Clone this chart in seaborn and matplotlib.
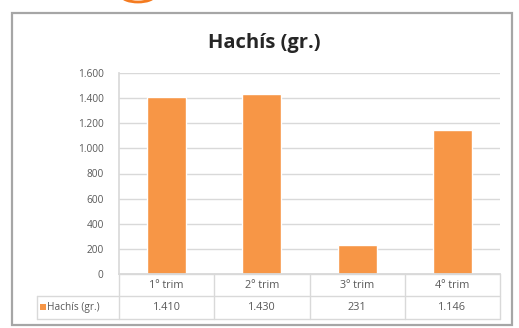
import matplotlib
matplotlib.use("Agg")
import matplotlib.pyplot as plt
import seaborn as sns
import pandas as pd
from matplotlib.patches import Rectangle, Ellipse
from matplotlib.lines import Line2D

categories = ["1º trim", "2º trim", "3º trim", "4º trim"]
values = [1410, 1430, 231, 1146]
series_name = "Hachís (gr.)"
y_ticks = [0, 200, 400, 600, 800, 1000, 1200, 1400, 1600]

ORANGE = "#F79646"
GRID = "#D9D9D9"
TXT = "#595959"

def fmt(v):
    return f"{v:,}".replace(",", ".")

sns.set_theme(style="white")
plt.rcParams["font.family"] = ["Open Sans", "DejaVu Sans"]

W, H = 519, 328
fig = plt.figure(figsize=(W / 100, H / 100), dpi=100)
fig.patch.set_facecolor("white")

def fx(px):
    return px / W

def fy(py):
    return 1 - py / H

# plot area
L, R, T, B = 119, 500, 73, 274
ax = fig.add_axes([fx(L), fy(B), fx(R) - fx(L), fy(T) - fy(B)])
df = pd.DataFrame({"cat": categories, "val": values})
sns.barplot(data=df, x="cat", y="val", color=ORANGE, width=0.41,
            saturation=1, ax=ax)
ax.set_xlim(-0.5, 3.5)
ax.set_ylim(0, 1600)
ax.set_yticks(y_ticks)
ax.set_yticklabels([fmt(t) for t in y_ticks], fontsize=7.3, color=TXT)
ax.set_xticks([])
ax.set_xlabel("")
ax.set_ylabel("")
ax.tick_params(axis="y", length=0, pad=11)
ax.yaxis.grid(True, color=GRID, linewidth=1)
ax.set_axisbelow(True)
for s in ["top", "right"]:
    ax.spines[s].set_visible(False)
ax.spines["left"].set_color(GRID)
ax.spines["bottom"].set_color(GRID)
ax.patch.set_alpha(0)

# outer frame
fig.patches.append(Rectangle((fx(12), fy(325)), fx(512) - fx(12), fy(13) - fy(325),
                             transform=fig.transFigure, fill=False,
                             edgecolor="#A6A6A6", linewidth=1.6))
# orange fragment above the frame
fig.patches.append(Ellipse((fx(138), fy(-4)), fx(32), 12 / H,
                           transform=fig.transFigure, facecolor="none",
                           edgecolor="#F47B20", linewidth=2))

# title
fig.text(fx(264), fy(43), series_name, ha="center", va="center",
         fontsize=14.5, fontweight="bold", color="#262626")

# data table below the axis
row1_b, row2_b, left = 296, 319, 37
step = (R - L) / len(categories)
def line(x0, y0, x1, y1):
    fig.add_artist(Line2D([fx(x0), fx(x1)], [fy(y0), fy(y1)],
                          transform=fig.transFigure, color=GRID, linewidth=1))

line(L, B, R, B)
line(left, row1_b, R, row1_b)
line(left, row2_b, R, row2_b)
line(left, row1_b, left, row2_b)
line(R, B, R, row2_b)
for i in range(len(categories)):
    line(L + i * step, B, L + i * step, row2_b)

for i, (c, v) in enumerate(zip(categories, values)):
    cx = L + (i + 0.5) * step
    fig.text(fx(cx), fy((B + row1_b) / 2), c, ha="center", va="center",
             fontsize=7.8, color=TXT)
    fig.text(fx(cx), fy((row1_b + row2_b) / 2), fmt(v), ha="center",
             va="center", fontsize=7.8, color=TXT)

fig.patches.append(Rectangle((fx(40), fy(310)), fx(6), 6 / H,
                             transform=fig.transFigure, facecolor=ORANGE,
                             edgecolor="none"))
fig.text(fx(47), fy((row1_b + row2_b) / 2), series_name, ha="left",
         va="center", fontsize=7.3, color=TXT)

fig.savefig("out.png", dpi=100, facecolor="white")
